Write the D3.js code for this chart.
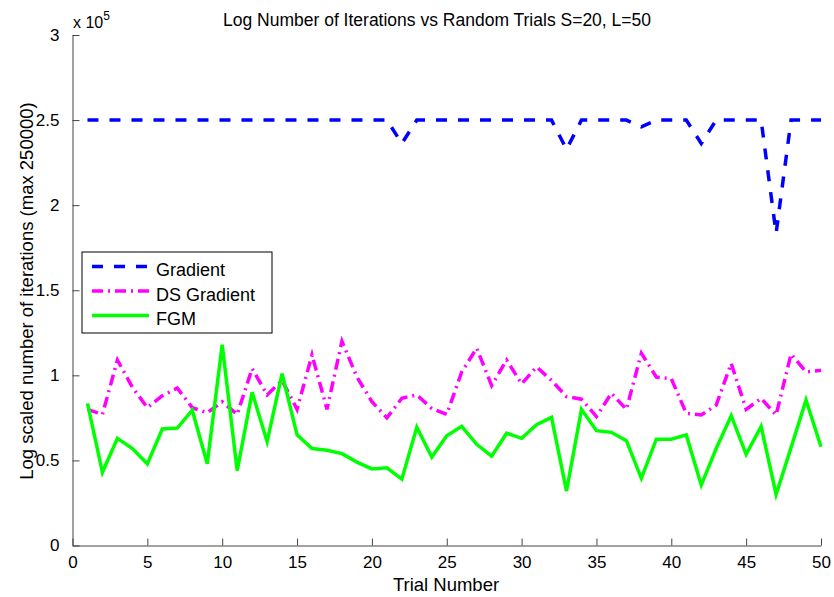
<!DOCTYPE html>
<html lang="en">
<head>
    <meta charset="UTF-8">
    <title>Log Number of Iterations vs Random Trials</title>
    <script src="https://d3js.org/d3.v7.min.js"></script>
    <style>
        body { margin: 0; background: #fff; }
        svg text { font-family: "Liberation Sans", Arial, sans-serif; fill: #000; }
        .axis path, .axis line { stroke: #444; stroke-width: 1px; }
        .axis text { font-size: 17px; }
        .series { fill: none; stroke-width: 3.5px; }
    </style>
</head>
<body>
    <div id="chart"></div>
    <script>
        // Data (iterations)
        const trials = d3.range(1, 51);
        const gradient = [
            250000, 250000, 250000, 250000, 250000, 250000, 250000, 250000, 250000, 250000,
            250000, 250000, 250000, 250000, 250000, 250000, 250000, 250000, 250000, 250000,
            250000, 236300, 250000, 250000, 250000, 250000, 250000, 250000, 250000, 250000,
            250000, 250000, 232800, 250000, 250000, 250000, 250000, 246000, 250000, 250000,
            250000, 236300, 250000, 250000, 250000, 250000, 183400, 250000, 250000, 250000
        ];
        const dsGradient = [
            80000, 77000, 109000, 93000, 81000, 88000, 92500, 81000, 78000, 84500,
            77000, 104000, 88500, 97000, 80000, 112000, 80000, 120000, 99000, 84500,
            75000, 86500, 88500, 80500, 77000, 102000, 116000, 94000, 109000, 95000,
            105000, 97000, 87500, 86000, 75700, 89500, 80000, 113000, 99000, 98000,
            77700, 76700, 82500, 107000, 80000, 86500, 76700, 112500, 102000, 103000
        ];
        const fgm = [
            83500, 43000, 63000, 57000, 48000, 68500, 69000, 79500, 48000, 118000,
            44000, 90000, 61000, 101000, 65000, 57000, 56000, 54000, 49000, 45000,
            45700, 39000, 69500, 52000, 64500, 70000, 59500, 52500, 66000, 63000,
            71000, 75300, 32000, 80000, 67500, 66500, 61600, 39500, 62500, 62500,
            65000, 35500, 57000, 76300, 53600, 70000, 30000, 57500, 85500, 58000
        ];
        const seriesNames = ["Gradient", "DS Gradient", "FGM"];
        const seriesColors = ["#0000ff", "#ff00ff", "#00ff00"];
        const seriesDashes = ["11,11", "11,5,2,5", null];
        const xTicks = d3.range(0, 51, 5);
        const yTicks = d3.range(0, 300001, 50000);

        const W = 834, H = 597;
        const svg = d3.select("#chart").append("svg")
            .attr("width", W).attr("height", H);

        const x = d3.scaleLinear().domain([0, 50]).range([72.5, 821]);
        const y = d3.scaleLinear().domain([0, 300000]).range([545.5, 35]);

        // Axes (ticks point inward, no box)
        svg.append("g")
            .attr("class", "axis")
            .attr("transform", `translate(0,${y(0)})`)
            .call(d3.axisBottom(x).tickValues(xTicks).tickSizeInner(-7).tickSizeOuter(0).tickPadding(10))
            .call(g => g.selectAll("text").attr("dy", "0.71em"));

        svg.append("g")
            .attr("class", "axis")
            .attr("transform", `translate(${x(0)},0)`)
            .call(d3.axisLeft(y).tickValues(yTicks).tickSizeInner(-7).tickSizeOuter(0).tickPadding(13)
                .tickFormat(d => d3.format("")(d / 1e5)));

        // Exponent label
        const expo = svg.append("text").attr("x", 73).attr("y", 28).style("font-size", "16px");
        expo.append("tspan").text("x 10");
        expo.append("tspan").attr("dy", -8).style("font-size", "12px").text("5");

        // Lines
        const line = d3.line().x((d, i) => x(trials[i])).y(d => y(d));
        [gradient, dsGradient, fgm].forEach((s, k) => {
            svg.append("path")
                .datum(s)
                .attr("class", "series")
                .attr("stroke", seriesColors[k])
                .attr("stroke-dasharray", seriesDashes[k])
                .attr("d", line);
        });

        // Title and axis labels
        svg.append("text")
            .attr("x", 437).attr("y", 26)
            .attr("text-anchor", "middle")
            .style("font-size", "17.5px")
            .text("Log Number of Iterations vs Random Trials S=20, L=50");

        svg.append("text")
            .attr("x", 446).attr("y", 591)
            .attr("text-anchor", "middle")
            .style("font-size", "18.5px")
            .text("Trial Number");

        svg.append("text")
            .attr("transform", "translate(33,291) rotate(-90)")
            .attr("text-anchor", "middle")
            .style("font-size", "18.5px")
            .text("Log scaled number of iterations (max 250000)");

        // Legend
        const legend = svg.append("g");
        legend.append("rect")
            .attr("x", 82).attr("y", 252).attr("width", 190).attr("height", 81)
            .attr("fill", "#fff").attr("stroke", "#000").attr("stroke-width", 1);
        seriesNames.forEach((name, k) => {
            const ly = 266.5 + k * 24.5;
            legend.append("line")
                .attr("x1", 92).attr("x2", 149).attr("y1", ly).attr("y2", ly)
                .attr("stroke", seriesColors[k]).attr("stroke-width", 3.5)
                .attr("stroke-dasharray", seriesDashes[k]);
            legend.append("text")
                .attr("x", 156).attr("y", ly + 9.5)
                .style("font-size", "18px")
                .text(name);
        });
    </script>
</body>
</html>
